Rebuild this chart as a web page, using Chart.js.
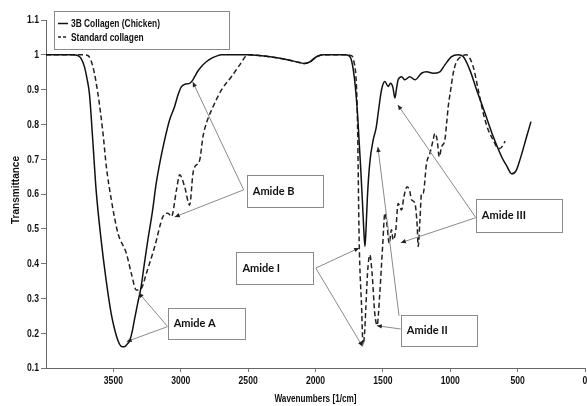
<!DOCTYPE html>
<html><head><meta charset="utf-8">
<script src="https://cdn.jsdelivr.net/npm/chart.js@4.4.1/dist/chart.umd.min.js"></script>
<style>html,body{margin:0;padding:0;background:#fff}canvas{display:block}</style>
</head><body>
<canvas id="c" width="587" height="406"></canvas>
<script>
// ---- data ----
const seriesLabels = ['3B Collagen (Chicken)', 'Standard collagen'];

const chickenWavenumbers = [4000,3900,3800,3765,3740,3715,3695,3678,3653,3628,3591,3554,3517,3490,3467,3445,3430,3410,3395,3381,3360,3344,3320,3294,3270,3244,3210,3182,3150,3120,3085,3046,3020,2996,2965,2935,2915,2897,2875,2848,2810,2773,2730,2699,2600,2500,2400,2300,2200,2120,2082,2040,1990,1940,1850,1780,1755,1738,1725,1712,1700,1688,1676,1664,1652,1642,1633,1625,1615,1597,1572,1550,1535,1510,1485,1461,1443,1425,1411,1398,1387,1361,1337,1300,1262,1213,1176,1127,1077,1040,990,941,904,854,804,742,681,619,580,544,510,483,433,401];
const chickenTransmittance = [1.0,1.0,1.0,0.998,0.99,0.966,0.93,0.889,0.755,0.611,0.468,0.353,0.258,0.21,0.18,0.163,0.161,0.163,0.17,0.176,0.205,0.238,0.285,0.334,0.4,0.468,0.55,0.631,0.7,0.755,0.81,0.851,0.885,0.908,0.916,0.918,0.925,0.937,0.952,0.966,0.98,0.99,0.997,1.0,1.0,1.0,0.997,0.992,0.985,0.978,0.975,0.98,0.995,1.0,1.0,1.0,0.998,0.99,0.97,0.935,0.89,0.83,0.75,0.67,0.58,0.5,0.449,0.5,0.59,0.69,0.755,0.79,0.832,0.899,0.923,0.909,0.918,0.905,0.876,0.905,0.928,0.937,0.928,0.937,0.928,0.947,0.951,0.947,0.951,0.971,0.995,1.0,0.995,0.956,0.899,0.832,0.765,0.707,0.68,0.658,0.668,0.698,0.765,0.808];

const standardWavenumbers = [4000,3900,3800,3720,3689,3652,3615,3577,3552,3515,3466,3404,3367,3329,3292,3255,3193,3132,3095,3069,3032,3008,2971,2934,2909,2896,2859,2835,2810,2760,2698,2624,2562,2501,2400,2300,2200,2120,2082,2040,1990,1940,1850,1760,1740,1725,1712,1705,1695,1688,1676,1658,1647,1636,1626,1614,1597,1580,1560,1543,1523,1502,1485,1468,1453,1436,1424,1404,1387,1361,1344,1320,1300,1287,1262,1245,1238,1225,1213,1201,1176,1151,1127,1114,1097,1082,1064,1040,1027,1015,997,978,958,920,880,830,792,755,718,681,656,631,607,593];
const standardTransmittance = [1.0,1.0,1.0,1.0,0.998,0.966,0.889,0.774,0.678,0.583,0.487,0.43,0.372,0.324,0.329,0.372,0.449,0.535,0.545,0.535,0.611,0.655,0.621,0.568,0.66,0.678,0.698,0.765,0.803,0.851,0.899,0.937,0.971,1.0,0.997,0.992,0.985,0.978,0.975,0.98,0.995,1.0,1.0,1.0,0.998,0.995,0.975,0.96,0.9,0.8,0.468,0.276,0.166,0.2,0.276,0.372,0.425,0.372,0.257,0.223,0.314,0.449,0.545,0.506,0.458,0.497,0.468,0.497,0.573,0.554,0.592,0.621,0.607,0.583,0.573,0.506,0.449,0.525,0.602,0.602,0.688,0.717,0.755,0.774,0.755,0.707,0.736,0.755,0.803,0.851,0.899,0.947,0.976,0.995,1.0,0.966,0.899,0.832,0.784,0.755,0.736,0.731,0.741,0.752];

const xTickValues = [4000,3500,3000,2500,2000,1500,1000,500,0];
const yTickValues = [0.1,0.2,0.3,0.4,0.5,0.6,0.7,0.8,0.9,1.0,1.1];
const xAxisTitle = 'Wavenumbers [1/cm]';
const yAxisTitle = 'Transmittance';
const annotationTexts = ['Amide A','Amide B','Amide I','Amide II','Amide III'];

// ---- annotation layout (data coordinates) ----
const annotationLayout = [
  { box:[3097,0.273,2525,0.184], arrows:[[[3097,0.219],[3401,0.176]],[[3097,0.219],[3312,0.316]]] },
  { box:[2510,0.655,1946,0.563], arrows:[[[2533,0.612],[2911,0.922]],[[2533,0.612],[3045,0.534]]] },
  { box:[2587,0.432,2018,0.341], arrows:[[[1998,0.387],[1676,0.445]],[[1998,0.387],[1651,0.162]]] },
  { box:[1367,0.253,802,0.164], arrows:[[[1380,0.250],[1537,0.735]],[[1367,0.212],[1545,0.2215]]] },
  { box:[810,0.586,171,0.491], arrows:[[[810,0.532],[1389,0.856]],[[810,0.532],[1367,0.460]]] }
];

const SANS = "'Liberation Sans', Arial, sans-serif";
const LABELFONT = "Lato, 'Open Sans', sans-serif";
const NARROW_SX = 0.82;
const fmtX = v => (v === 4000 ? null : String(v));
const fmtY = v => String(+v.toFixed(1));

const toPoints = (xs, ys) => xs.map((x, i) => ({x, y: ys[i]}));

function drawText(ctx, text, x, y, o) {
  ctx.save();
  ctx.translate(x, y);
  if (o.rotate) ctx.rotate(-Math.PI / 2);
  ctx.font = o.font;
  let sx = o.sx || 1;
  if (o.width) sx = o.width / ctx.measureText(o.ref || text).width;
  ctx.scale(sx, 1);
  ctx.fillStyle = o.color || '#111';
  ctx.textAlign = o.align || 'left';
  ctx.textBaseline = o.baseline || 'middle';
  ctx.fillText(text, 0, 0);
  ctx.restore();
}

const axisTextPlugin = {
  id: 'axisText',
  afterDraw(chart) {
    const ctx = chart.ctx, xs = chart.scales.x, ys = chart.scales.y, ca = chart.chartArea;
    const tf = 'bold 10.5px ' + SANS;
    xs.ticks.forEach(t => {
      const lbl = fmtX(t.value);
      if (lbl === null) return;
      drawText(ctx, lbl, xs.getPixelForValue(t.value), ca.bottom + 8, { font: tf, sx: NARROW_SX, align: 'center', baseline: 'top' });
    });
    ys.ticks.forEach(t => {
      drawText(ctx, fmtY(t.value), ca.left - 7, ys.getPixelForValue(t.value) + 0.5, { font: tf, sx: NARROW_SX, align: 'right', baseline: 'middle' });
    });
    drawText(ctx, xAxisTitle, (ca.left + ca.right) / 2, 399, { font: 'bold 10px ' + SANS, sx: NARROW_SX, align: 'center', baseline: 'middle' });
    drawText(ctx, yAxisTitle, 16, (ca.top + ca.bottom) / 2 - 4, { font: 'bold 10px ' + SANS, width: 68, align: 'center', baseline: 'middle', rotate: true });
  }
};

const annotationPlugin = {
  id: 'amideAnnotations',
  afterDatasetsDraw(chart) {
    const ctx = chart.ctx, xs = chart.scales.x, ys = chart.scales.y;
    ctx.save();
    annotationLayout.forEach((a, i) => {
      a.arrows.forEach(([from, to]) => {
        const x0 = xs.getPixelForValue(from[0]), y0 = ys.getPixelForValue(from[1]);
        const x1 = xs.getPixelForValue(to[0]), y1 = ys.getPixelForValue(to[1]);
        ctx.strokeStyle = '#8a8a8a'; ctx.lineWidth = 1;
        ctx.beginPath(); ctx.moveTo(x0, y0); ctx.lineTo(x1, y1); ctx.stroke();
        const ang = Math.atan2(y1 - y0, x1 - x0), L = 5, W = 2.2;
        ctx.fillStyle = '#222';
        ctx.beginPath();
        ctx.moveTo(x1, y1);
        ctx.lineTo(x1 - L*Math.cos(ang) + W*Math.sin(ang), y1 - L*Math.sin(ang) - W*Math.cos(ang));
        ctx.lineTo(x1 - L*Math.cos(ang) - W*Math.sin(ang), y1 - L*Math.sin(ang) + W*Math.cos(ang));
        ctx.closePath(); ctx.fill();
      });
      const bx0 = xs.getPixelForValue(a.box[0]), by0 = ys.getPixelForValue(a.box[1]);
      const bx1 = xs.getPixelForValue(a.box[2]), by1 = ys.getPixelForValue(a.box[3]);
      ctx.fillStyle = '#fff';
      ctx.fillRect(bx0, by0, bx1 - bx0, by1 - by0);
      ctx.strokeStyle = '#8a8a8a'; ctx.lineWidth = 1;
      ctx.strokeRect(Math.round(bx0) + 0.5, Math.round(by0) + 0.5, Math.round(bx1 - bx0), Math.round(by1 - by0));
      drawText(ctx, annotationTexts[i], bx0 + 6, (by0 + by1) / 2 + 0.5, { font: 'bold 11px ' + LABELFONT, color: '#111' });
    });
    ctx.restore();
  }
};

const legendPlugin = {
  id: 'boxLegend',
  afterDraw(chart) {
    const ctx = chart.ctx, ca = chart.chartArea;
    const x = ca.left + 8, y = ca.top - 9, w = 175, h = 38;
    ctx.save();
    ctx.fillStyle = '#fff';
    ctx.fillRect(x, y, w, h);
    ctx.strokeStyle = '#888'; ctx.lineWidth = 1;
    ctx.strokeRect(Math.round(x) + 0.5, Math.round(y) + 0.5, w, h);
    ctx.font = 'bold 11px ' + SANS;
    const sx = 89 / ctx.measureText(chart.data.datasets[0].label).width;
    chart.data.datasets.forEach((ds, i) => {
      const ly = y + 12.5 + i * 13.5;
      ctx.strokeStyle = ds.borderColor; ctx.lineWidth = 1.5;
      ctx.setLineDash(i === 0 ? [] : [3, 2]);
      ctx.beginPath(); ctx.moveTo(x + 4, ly); ctx.lineTo(x + 14, ly); ctx.stroke();
      ctx.setLineDash([]);
      drawText(ctx, ds.label, x + 17, ly + 0.5, { font: 'bold 11px ' + SANS, sx: sx });
    });
    ctx.restore();
  }
};

new Chart(document.getElementById('c'), {
  type: 'line',
  data: {
    datasets: [
      { label: seriesLabels[0], data: toPoints(chickenWavenumbers, chickenTransmittance),
        borderColor: '#111', borderWidth: 1.5, pointRadius: 0, cubicInterpolationMode: 'monotone', fill: false },
      { label: seriesLabels[1], data: toPoints(standardWavenumbers, standardTransmittance),
        borderColor: '#222', borderWidth: 1.5, borderDash: [5, 3], pointRadius: 0, cubicInterpolationMode: 'monotone', fill: false }
    ]
  },
  options: {
    responsive: false,
    devicePixelRatio: 1,
    animation: false,
    layout: { padding: { top: 20, left: 0, right: 0, bottom: 0 } },
    plugins: { legend: { display: false }, tooltip: { enabled: false } },
    scales: {
      x: {
        type: 'linear', reverse: true, min: 0, max: 4000,
        afterBuildTicks: s => { s.ticks = xTickValues.map(v => ({ value: v })); },
        afterFit: s => { s.height = 38; s.paddingLeft = 0; s.paddingRight = 2; },
        ticks: { display: false, autoSkip: false, callback: fmtX },
        grid: { display: true, drawOnChartArea: false, drawTicks: true, tickLength: 4, color: '#777' },
        border: { display: true, color: '#666', width: 1 },
        title: { display: false, text: xAxisTitle }
      },
      y: {
        type: 'linear', min: 0.1, max: 1.1,
        afterBuildTicks: s => { s.ticks = yTickValues.map(v => ({ value: v })); },
        afterFit: s => { s.width = 46; s.paddingTop = 0; s.paddingBottom = 0; },
        ticks: { display: false, callback: fmtY },
        grid: { display: true, drawOnChartArea: false, drawTicks: true, tickLength: 5, color: '#777' },
        border: { display: true, color: '#666', width: 1 },
        title: { display: false, text: yAxisTitle }
      }
    }
  },
  plugins: [annotationPlugin, legendPlugin, axisTextPlugin]
});
</script>
</body></html>
